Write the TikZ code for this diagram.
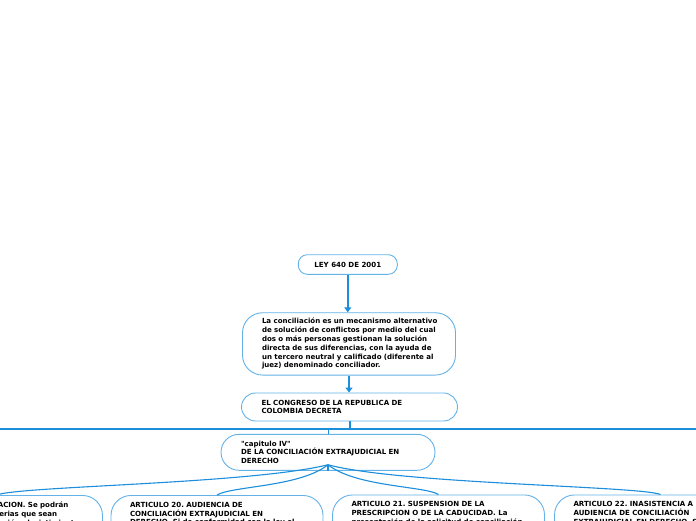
\documentclass[tikz,border=0pt]{standalone}
\usepackage{fontspec}
\setmainfont{DejaVu Sans}[Ligatures=TeXOff]
\usetikzlibrary{arrows.meta}
\definecolor{boxblue}{RGB}{100,178,232}
\definecolor{linkblue}{RGB}{28,142,220}
\newcommand\Lx[1]{\mbox{#1}}
\frenchspacing
\begin{document}
\begin{tikzpicture}[x=1pt,y=-1pt,
  box/.style={draw=boxblue, line width=0.9pt, fill=white,
    font=\bfseries\fontsize{7.05}{8.8}\selectfont\frenchspacing, align=left, inner ysep=0pt},
  pill/.style={box, rounded corners=#1},
  leaf/.style={box, rounded corners=20pt, anchor=north, text width=174pt,
    inner xsep=19pt, inner ysep=6.6pt, text depth=90pt},
  link/.style={draw=linkblue, line width=1.4pt},
  branch/.style={draw=linkblue, line width=1.1pt},
  tip/.style={-{Triangle[width=7pt,length=5pt]}}]
\useasboundingbox (0,0) rectangle (696,520);
\clip (0,0) rectangle (696,520);

% top chain
\node[pill=9pt, minimum width=99pt, minimum height=19.6pt, align=center, inner xsep=0pt]
  (ley) at (347.8,264.5) {LEY 640 DE 2001};

\node[pill=20pt, text width=174pt, inner xsep=19.5pt, minimum height=62.3pt]
  (def) at (349,343.9) {\Lx{La conciliación es un mecanismo alternativo}\\
  \Lx{de solución de conflictos por medio del cual}\\
  \Lx{dos o más personas gestionan la solución}\\
  \Lx{directa de sus diferencias, con la ayuda de}\\
  \Lx{un tercero neutral y calificado (diferente al}\\
  \Lx{juez) denominado conciliador.}};

\node[pill=14pt, text width=176pt, inner xsep=20pt, minimum height=28pt]
  (cong) at (349.5,407) {\Lx{EL CONGRESO DE LA REPUBLICA DE}\\
  \Lx{COLOMBIA DECRETA}};

\draw[link, tip] (ley.south) -- (ley.south |- def.north);
\draw[link, tip] (def.south) -- (def.south |- cong.north);

% long horizontal line
\coordinate (hl) at (-10,429.3);
\coordinate (hr) at (706,429.3);
\draw[draw=linkblue, line width=1.7pt] (hl) -- (hr);
\draw[draw=linkblue, line width=2pt] (cong.south) -- (cong.south |- hl);

\node[pill=18pt, text width=174pt, inner xsep=20pt, minimum height=36pt]
  (cap) at (328,452.3) {\Lx{"capitulo IV"}\\
  \Lx{DE LA CONCILIACIÓN EXTRAJUDICIAL EN}\\
  \Lx{DERECHO}};
\draw[draw=linkblue, line width=1pt] (cap.north |- hl) -- (cap.north);

% leaves
\node[leaf] (a19) at (-3.5,495) {\Lx{ARTICULO 19. CONCILIACION. Se podrán}\\
  \Lx{conciliar todas las materias que sean}\\
  \Lx{susceptibles de transacción, desistimiento}};
\node[leaf] (a20) at (217,495) {\Lx{ARTICULO 20. AUDIENCIA DE}\\
  \Lx{CONCILIACIÓN EXTRAJUDICIAL EN}\\
  \Lx{DERECHO. Si de conformidad con la ley el}};
\node[leaf] (a21) at (438.5,494.5) {\Lx{ARTICULO 21. SUSPENSION DE LA}\\
  \Lx{PRESCRIPCION O DE LA CADUCIDAD. La}\\
  \Lx{presentación de la solicitud de conciliación}};
\node[leaf] (a22) at (660.5,494.5) {\Lx{ARTICULO 22. INASISTENCIA A LA}\\
  \Lx{AUDIENCIA DE CONCILIACIÓN}\\
  \Lx{EXTRAJUDICIAL EN DERECHO. Salvo}};

\coordinate (fork) at ([yshift=6pt]cap.south);
\draw[draw=linkblue, line width=1.6pt] (cap.south) -- (fork);
\draw[branch] (fork) .. controls (250,484) and (20,486) .. (a19.north);
\draw[branch] (fork) .. controls (300,487) and (232,486) .. (a20.north);
\draw[branch] (fork) .. controls (356,487) and (425,486) .. (a21.north);
\draw[branch] (fork) .. controls (400,484) and (640,486) .. (a22.north);
\end{tikzpicture}
\end{document}
